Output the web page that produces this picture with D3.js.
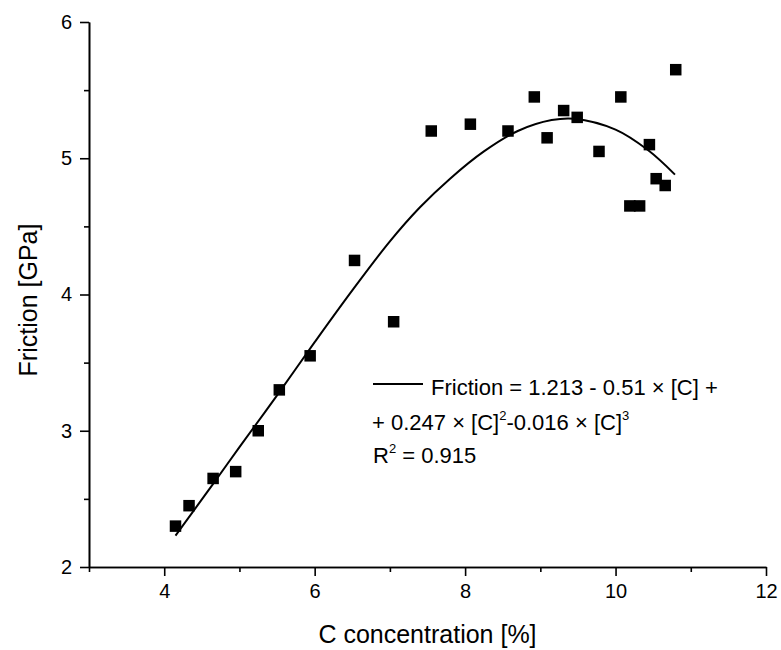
<!DOCTYPE html>
<html>
<head>
<meta charset="utf-8">
<script src="https://cdn.jsdelivr.net/npm/d3@7"></script>
<style>
  body { margin: 0; background: #fff; }
  svg { display: block; font-family: "Liberation Sans", Arial, sans-serif; }
  .axis path, .axis line { stroke: #000; stroke-width: 1.6; }
  .axis text { font-size: 20px; fill: #000; }
</style>
</head>
<body>
<script>
// measured points
var concentration = [4.15, 4.33, 4.65, 4.95, 5.25, 5.53, 5.94, 6.53, 7.05, 7.55, 8.07, 8.57,
                     8.92, 9.09, 9.31, 9.49, 9.78, 10.07, 10.19, 10.32, 10.45, 10.54, 10.66, 10.8];
var friction = [2.30, 2.45, 2.65, 2.70, 3.00, 3.30, 3.55, 4.25, 3.80, 5.20, 5.25, 5.20,
                5.45, 5.15, 5.35, 5.30, 5.05, 5.45, 4.65, 4.65, 5.10, 4.85, 4.80, 5.65];

// fitted curve
var fitX = [4.15, 4.65, 5.0, 5.5, 6.0, 6.5, 7.0, 7.4, 7.8, 8.25, 8.7, 9.15, 9.45, 10.0, 10.43, 10.79];
var fitY = [2.23, 2.61, 2.88, 3.26, 3.65, 4.03, 4.39, 4.64, 4.85, 5.05, 5.20, 5.28, 5.29, 5.21, 5.06, 4.88];

var xTicks = [4, 6, 8, 10, 12];
var xMinor = [3, 5, 7, 9, 11];
var yTicks = [2, 3, 4, 5, 6];
var yMinor = [2.5, 3.5, 4.5, 5.5];

var width = 781, height = 650;
// plot box (don't call these top/left, window.top is read-only)
var plotL = 89, plotR = 766, plotT = 22, plotB = 567;

var svg = d3.select("body").append("svg")
  .attr("width", width)
  .attr("height", height);

var x = d3.scaleLinear().domain([3, 12]).range([plotL, plotR]);
var y = d3.scaleLinear().domain([2, 6]).range([plotB, plotT]);
var fmt = d3.format("d");

// minor ticks first, then the main axes on top
svg.append("g").attr("class", "axis")
  .attr("transform", "translate(0," + plotB + ")")
  .call(d3.axisBottom(x).tickValues(xMinor).tickSize(5).tickSizeOuter(0).tickFormat(""));
svg.append("g").attr("class", "axis")
  .attr("transform", "translate(" + plotL + ",0)")
  .call(d3.axisLeft(y).tickValues(yMinor).tickSize(5).tickSizeOuter(0).tickFormat(""));

svg.append("g").attr("class", "axis")
  .attr("transform", "translate(0," + plotB + ")")
  .call(d3.axisBottom(x).tickValues(xTicks).tickSize(9).tickSizeOuter(0).tickPadding(8).tickFormat(fmt));
svg.append("g").attr("class", "axis")
  .attr("transform", "translate(" + plotL + ",0)")
  .call(d3.axisLeft(y).tickValues(yTicks).tickSize(9).tickSizeOuter(0).tickPadding(8).tickFormat(fmt));

// axis titles
svg.append("text")
  .attr("x", (plotL + plotR) / 2)
  .attr("y", 643)
  .attr("text-anchor", "middle")
  .style("font-size", "25px")
  .text("C concentration [%]");

svg.append("text")
  .attr("transform", "translate(37,300) rotate(-90)")
  .attr("text-anchor", "middle")
  .style("font-size", "25px")
  .text("Friction [GPa]");

// fit line
var fit = fitX.map(function(d, i) { return [d, fitY[i]]; });
svg.append("path")
  .datum(fit)
  .attr("fill", "none")
  .attr("stroke", "#000")
  .attr("stroke-width", 2)
  .attr("d", d3.line()
    .x(function(d) { return x(d[0]); })
    .y(function(d) { return y(d[1]); })
    .curve(d3.curveCatmullRom));

// data points
var s = 11.5;
svg.selectAll("rect.pt")
  .data(concentration)
  .enter().append("rect")
  .attr("class", "pt")
  .attr("x", function(d) { return x(d) - s / 2; })
  .attr("y", function(d, i) { return y(friction[i]) - s / 2; })
  .attr("width", s)
  .attr("height", s)
  .attr("fill", "#000");

// legend
var lg = svg.append("g").style("font-size", "22px");
lg.append("line")
  .attr("x1", 373).attr("x2", 423)
  .attr("y1", 384).attr("y2", 384)
  .attr("stroke", "#000").attr("stroke-width", 2);
lg.append("text").attr("x", 431).attr("y", 395)
  .text("Friction = 1.213 - 0.51 \u00d7 [C] +");

var l2 = lg.append("text").attr("x", 372).attr("y", 430);
l2.append("tspan").text("+ 0.247 \u00d7 [C]");
l2.append("tspan").attr("dy", -10).style("font-size", "13px").text("2");
l2.append("tspan").attr("dy", 10).text("-0.016 \u00d7 [C]");
l2.append("tspan").attr("dy", -10).style("font-size", "13px").text("3");

var l3 = lg.append("text").attr("x", 373).attr("y", 463);
l3.append("tspan").text("R");
l3.append("tspan").attr("dy", -10).style("font-size", "13px").text("2");
l3.append("tspan").attr("dy", 10).text(" = 0.915");
</script>
</body>
</html>
